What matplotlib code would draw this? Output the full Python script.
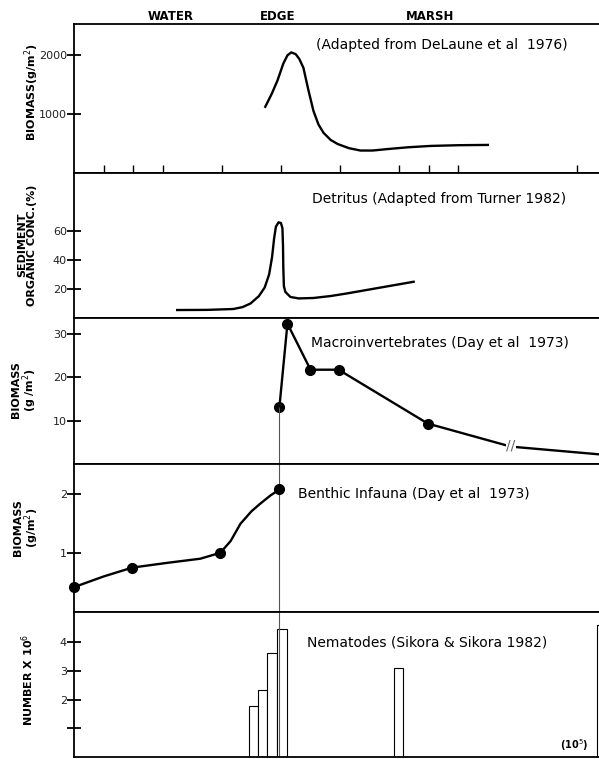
import matplotlib
matplotlib.use('Agg')
import matplotlib.pyplot as plt

plt.rcParams['font.family'] = ['DejaVu Sans']

# distance axis: arbitrary transect units, edge sits at 7
x_ticks = [1, 2, 3, 5, 7, 9, 11, 12, 13, 17]
edge_x = 6.95

# plant biomass (DeLaune et al 1976)
plant_x = [6.47, 6.68, 6.88, 7.08, 7.22, 7.35, 7.5, 7.62, 7.76, 7.93, 8.10, 8.27,
           8.44, 8.68, 8.92, 9.3, 9.69, 10.1, 10.61, 11.3, 12.07, 13.0, 14.0]
plant_y = [1120, 1330, 1560, 1850, 1990, 2040, 2010, 1930, 1780, 1400, 1050, 820,
           680, 560, 490, 420, 380, 380, 405, 435, 458, 470, 475]

# detritus (Turner 1982)
detr_x = [3.49, 4.5, 5.39, 5.7, 5.97, 6.25, 6.45, 6.6, 6.7, 6.77, 6.83, 6.92, 7.0,
          7.05, 7.07, 7.08, 7.1, 7.15, 7.32, 7.6, 8.10, 8.7, 9.25, 10.37, 11.49]
detr_y = [5.5, 5.6, 6.2, 7.5, 10, 15, 21, 30, 42, 55, 63, 66, 65.5,
          62, 50, 35, 22, 18, 14.5, 13.5, 13.8, 15.2, 17, 21, 25]

# macroinvertebrates (Day et al 1973)
macro_x = [6.95, 7.22, 8.0, 8.95, 11.97, 14.78, 17.8]
macro_y = [13.2, 32.3, 21.7, 21.7, 9.3, 4.0, 2.2]
macro_marked = 5  # first five are sampled points

# benthic infauna (Day et al 1973)
benth_x = [0, 1.97, 4.95, 6.95]
benth_y = [0.42, 0.75, 1.0, 2.07]
benth_curve_x = [0, 1.0, 1.97, 3.15, 4.27, 4.95, 5.3, 5.63, 6.0, 6.3, 6.65, 6.95]
benth_curve_y = [0.42, 0.6, 0.75, 0.83, 0.9, 1.0, 1.2, 1.49, 1.7, 1.83, 1.97, 2.07]

# nematodes (Sikora & Sikora 1982)
nema_left = [5.93, 6.24, 6.54, 6.88, 10.81, 17.7]
nema_right = [6.24, 6.54, 6.88, 7.22, 11.12, 18.0]
nema_count = [1.78, 2.33, 3.62, 4.46, 3.1, 4.6]

W, H = 599, 759
fig = plt.figure(figsize=(W / 100, H / 100), dpi=100)

# panel extents in pixels (top, bottom)
panels = [(24, 173), (173, 318), (318, 464), (464, 612), (612, 757)]
left_px = 74
axes = []
for top, bot in panels:
    ax = fig.add_axes([left_px / W, 1 - bot / H, (W - left_px) / W + 0.002, (bot - top) / H])
    ax.set_xlim(0, 17.8)
    ax.set_xticks([])
    ax.spines['right'].set_visible(False)
    for s in ['left', 'top', 'bottom']:
        ax.spines[s].set_linewidth(1.3)
    ax.tick_params(axis='y', direction='inout', length=10, width=1.3, pad=0,
                   labelsize=8, labelcolor='#222222')
    axes.append(ax)

lw = 1.7
note_fs = 10

# panel 1
ax = axes[0]
ax.plot(plant_x, plant_y, color='black', lw=lw)
ax.set_ylim(0, 2520)
ax.set_yticks([1000, 2000])
ax.set_xticks(x_ticks)
ax.tick_params(axis='x', direction='in', length=6, width=1.0, labelbottom=False)
ax.text(0.459, 0.86, '(Adapted from DeLaune et al  1976)', transform=ax.transAxes,
        fontsize=note_fs, va='center')

# panel 2
ax = axes[1]
ax.plot(detr_x, detr_y, color='black', lw=lw)
ax.set_ylim(0, 100)
ax.set_yticks([20, 40, 60])
ax.text(0.453, 0.82, 'Detritus (Adapted from Turner 1982)', transform=ax.transAxes,
        fontsize=note_fs, va='center')

# panel 3
ax = axes[2]
ax.plot(macro_x, macro_y, color='black', lw=lw)
ax.plot(macro_x[:macro_marked], macro_y[:macro_marked], 'o', color='black', ms=7,
        clip_on=False)
ax.vlines(edge_x, 0, macro_y[0], color='#555555', lw=0.8)
ax.text(macro_x[5], macro_y[5] + 0.3, '//', ha='center', va='center', fontsize=10,
        color='#666666', bbox=dict(fc='white', ec='none', pad=0))
ax.set_ylim(0, 33.6)
ax.set_yticks([10, 20, 30])
ax.text(0.45, 0.83, 'Macroinvertebrates (Day et al  1973)', transform=ax.transAxes,
        fontsize=note_fs, va='center')

# panel 4
ax = axes[3]
ax.axvline(edge_x, color='#555555', lw=0.8)
ax.plot(benth_curve_x, benth_curve_y, color='black', lw=lw)
ax.plot(benth_x, benth_y, 'o', color='black', ms=7, clip_on=False)
ax.set_ylim(0, 2.5)
ax.set_yticks([1, 2])
ax.text(0.425, 0.80, 'Benthic Infauna (Day et al  1973)', transform=ax.transAxes,
        fontsize=note_fs, va='center')

# panel 5
ax = axes[4]
ax.axvline(edge_x, color='#555555', lw=0.8)
for l, r, c in zip(nema_left, nema_right, nema_count):
    ax.bar(l, c, width=r - l, align='edge', facecolor='white', edgecolor='black', lw=0.8)
ax.set_ylim(0, 5.05)
ax.set_yticks([1, 2, 3, 4])
ax.set_yticklabels(['', '2', '3', '4'])
ax.text(0.442, 0.79, 'Nematodes (Sikora & Sikora 1982)', transform=ax.transAxes,
        fontsize=note_fs, va='center')
ax.text(0.95, 0.08, '(10$^5$)', transform=ax.transAxes, fontsize=7, fontweight='bold',
        ha='center', va='center')

# y labels
lab_kw = dict(rotation=90, ha='center', va='center', fontsize=8, fontweight='bold',
              multialignment='center', linespacing=1.0)
fig.text(32 / W, 1 - 92 / H, 'BIOMASS(g/m$^2$)', **lab_kw)
fig.text(27 / W, 1 - 245 / H, 'SEDIMENT\nORGANIC CONC.(%)', **lab_kw)
fig.text(25 / W, 1 - 390 / H, 'BIOMASS\n(g /m$^2$)', **lab_kw)
fig.text(27 / W, 1 - 528 / H, 'BIOMASS\n(g/m$^2$)', **lab_kw)
fig.text(28 / W, 1 - 680 / H, 'NUMBER X 10$^6$', **lab_kw)

# zone labels on top
top_kw = dict(ha='center', va='center', fontsize=8.5, fontweight='bold')
fig.text(171 / W, 1 - 16 / H, 'WATER', **top_kw)
fig.text(278 / W, 1 - 16 / H, 'EDGE', **top_kw)
fig.text(430 / W, 1 - 16 / H, 'MARSH', **top_kw)

fig.savefig('out.png', dpi=100)
